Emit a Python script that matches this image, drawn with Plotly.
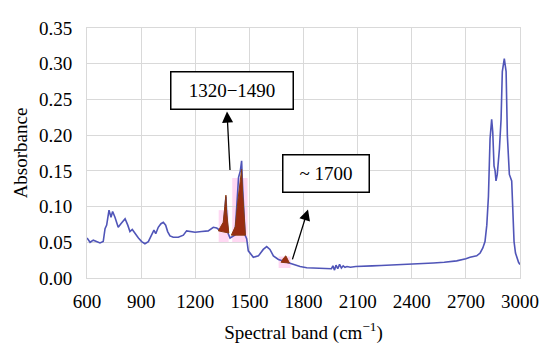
import plotly.graph_objects as go

# Spectrum (wavenumber, absorbance)
wavenumber = [600, 617, 635, 653, 672, 690, 700, 709, 722, 733, 742, 755, 773, 788, 811, 826,
              838, 851, 866, 885, 903, 921, 940, 958, 971, 981, 995, 1010, 1023, 1036, 1047,
              1060, 1078, 1106, 1134, 1152, 1171, 1199, 1236, 1272, 1300, 1319, 1330, 1345,
              1358, 1365, 1370, 1376, 1383, 1393, 1405, 1420, 1430, 1440, 1450, 1457, 1462,
              1468, 1476, 1485, 1494, 1522, 1550, 1577, 1596, 1614, 1633, 1661, 1698, 1744,
              1781, 1818, 1870, 1920, 1955, 1963, 1972, 1980, 1990, 2000, 2010, 2020, 2030,
              2041, 2060, 2090, 2130, 2180, 2230, 2280, 2340, 2400, 2463, 2520, 2580, 2649,
              2700, 2723, 2760, 2779, 2794, 2806, 2816, 2825, 2834, 2843, 2849, 2856, 2862,
              2867, 2874, 2886, 2895, 2902, 2913, 2923, 2930, 2941, 2954, 2960, 2967, 2975,
              2982, 2992, 3000]
absorbance = [0.056, 0.050, 0.053, 0.051, 0.049, 0.051, 0.069, 0.074, 0.095, 0.085, 0.093,
              0.085, 0.071, 0.076, 0.083, 0.074, 0.065, 0.068, 0.062, 0.056, 0.051, 0.048,
              0.051, 0.060, 0.067, 0.062, 0.071, 0.076, 0.078, 0.074, 0.065, 0.059, 0.057,
              0.057, 0.060, 0.066, 0.065, 0.064, 0.065, 0.066, 0.071, 0.070, 0.068, 0.067,
              0.075, 0.095, 0.114, 0.080, 0.062, 0.056, 0.058, 0.060, 0.100, 0.141, 0.150,
              0.164, 0.130, 0.100, 0.060, 0.055, 0.038, 0.029, 0.031, 0.040, 0.044, 0.040,
              0.031, 0.026, 0.023, 0.019, 0.016, 0.0144, 0.014, 0.014, 0.013, 0.017, 0.011,
              0.018, 0.013, 0.019, 0.014, 0.017, 0.015, 0.016, 0.015, 0.016, 0.016, 0.017,
              0.0175, 0.018, 0.019, 0.019, 0.020, 0.021, 0.022, 0.024, 0.027, 0.029, 0.031,
              0.035, 0.042, 0.051, 0.074, 0.114, 0.195, 0.222, 0.204, 0.157, 0.150, 0.136,
              0.145, 0.181, 0.222, 0.289, 0.307, 0.289, 0.199, 0.145, 0.136, 0.100, 0.051,
              0.035, 0.029, 0.022, 0.019]

# Highlighted peaks (filled)
peak1_x = [1328, 1355, 1364, 1370, 1374, 1380, 1386, 1328]
peak1_y = [0.066, 0.078, 0.100, 0.116, 0.092, 0.072, 0.063, 0.066]
peak2_x = [1400, 1422, 1438, 1450, 1457, 1462, 1470, 1478, 1400]
peak2_y = [0.060, 0.072, 0.112, 0.142, 0.152, 0.122, 0.082, 0.060, 0.060]
peak3_x = [1676, 1690, 1702, 1712, 1722, 1676]
peak3_y = [0.022, 0.028, 0.031, 0.026, 0.021, 0.022]

# Highlight bands
band_x0 = [1330, 1405, 1662]
band_x1 = [1385, 1490, 1728]
band_y0 = [0.050, 0.050, 0.014]
band_y1 = [0.095, 0.140, 0.030]

# Labels and arrows
label_text = ["1320\u22121490", "~ 1700"]
label_x = [1404, 1925]
label_y = [0.262, 0.147]
arrow_tail_x = [1393, 1736]
arrow_tail_y = [0.149, 0.024]
arrow_head_x = [1376, 1825]
arrow_head_y = [0.233, 0.096]

xticks = [600, 900, 1200, 1500, 1800, 2100, 2400, 2700, 3000]
yticks = [0.00, 0.05, 0.10, 0.15, 0.20, 0.25, 0.30, 0.35]

FONT = "Liberation Serif, Times New Roman, serif"
FS = 19

fig = go.Figure()

for x0, x1, y0, y1 in zip(band_x0, band_x1, band_y0, band_y1):
    fig.add_shape(type="rect", xref="x", yref="y", x0=x0, x1=x1, y0=y0, y1=y1,
                  fillcolor="rgba(255,190,235,0.6)", line=dict(width=0), layer="below")

fig.add_trace(go.Scatter(x=wavenumber, y=absorbance, mode="lines",
                         line=dict(color="#5055b8", width=1.6), hoverinfo="skip"))

for px, py in [(peak1_x, peak1_y), (peak2_x, peak2_y), (peak3_x, peak3_y)]:
    fig.add_trace(go.Scatter(x=px, y=py, mode="lines", fill="toself",
                             fillcolor="#9a2c12", line=dict(color="#8a3a10", width=1),
                             hoverinfo="skip"))

for hx, hy, tx, ty in zip(arrow_head_x, arrow_head_y, arrow_tail_x, arrow_tail_y):
    fig.add_annotation(x=hx, y=hy, ax=tx, ay=ty, xref="x", yref="y", axref="x", ayref="y",
                       text="", showarrow=True, arrowhead=2, arrowsize=1.7,
                       arrowwidth=1.3, arrowcolor="black")

widths = [117, 81]
for t, x, y, w in zip(label_text, label_x, label_y, widths):
    fig.add_annotation(x=x, y=y, xref="x", yref="y", text=t, showarrow=False,
                       font=dict(family=FONT, size=FS, color="black"),
                       bgcolor="white", bordercolor="black", borderwidth=1.5,
                       borderpad=2, width=w, height=32)

fig.update_layout(
    width=542, height=342,
    margin=dict(l=79, r=30, t=10, b=72),
    paper_bgcolor="white", plot_bgcolor="white",
    showlegend=False,
    font=dict(family=FONT, size=FS, color="black"),
)
fig.update_xaxes(range=[600, 3000], tickvals=xticks, ticktext=[str(v) for v in xticks],
                 tickfont=dict(family=FONT, size=FS, color="black"),
                 ticklabeloverflow="allow", ticklabelstandoff=6,
                 showgrid=True, gridcolor="#d9d9d9", gridwidth=1,
                 showline=True, linecolor="#d9d9d9", linewidth=1, mirror=True,
                 ticks="", zeroline=False,
                 title=dict(text="Spectral band (cm<sup>\u22121</sup>)", standoff=14,
                            font=dict(family=FONT, size=FS, color="black")))
fig.update_yaxes(range=[0, 0.35], tickvals=yticks, ticktext=[f"{v:.2f}" for v in yticks],
                 tickfont=dict(family=FONT, size=FS, color="black"),
                 ticklabeloverflow="allow",
                 showgrid=True, gridcolor="#d9d9d9", gridwidth=1,
                 showline=True, linecolor="#d9d9d9", linewidth=1, mirror=True,
                 ticks="", zeroline=False, ticklabelstandoff=10,
                 title=dict(text="Absorbance", standoff=6,
                            font=dict(family=FONT, size=FS, color="black")))

fig.write_html("out.html")
